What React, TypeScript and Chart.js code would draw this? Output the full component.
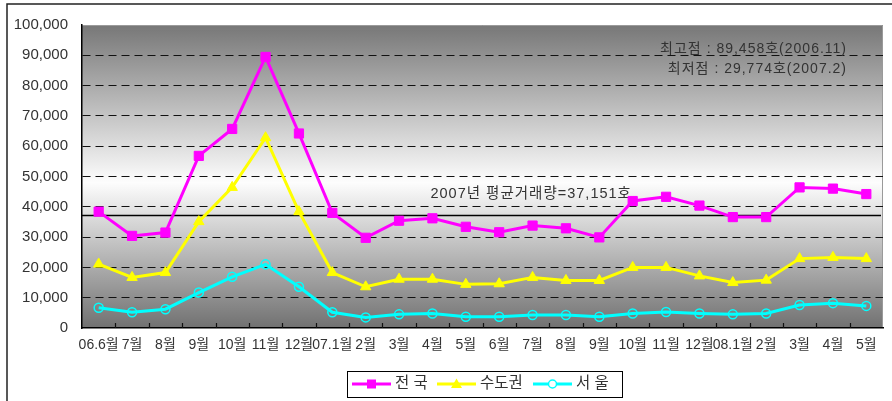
import React, { useEffect, useRef } from "react";
import { Chart, registerables } from "chart.js";

Chart.register(...registerables);

const categories = [
  "06.6월", "7월", "8월", "9월", "10월", "11월", "12월",
  "07.1월", "2월", "3월", "4월", "5월", "6월", "7월", "8월", "9월", "10월", "11월", "12월",
  "08.1월", "2월", "3월", "4월", "5월",
];

const nationwide = [
  38400, 30400, 31500, 56800, 65700, 89458, 64200,
  38000, 29774, 35400, 36200, 33400, 31600, 33800, 32900, 29900, 41900, 43300, 40400,
  36600, 36600, 46400, 46000, 44200,
];

const capitalArea = [
  21100, 16700, 18300, 35100, 46400, 62800, 38400,
  18300, 13600, 16100, 16100, 14400, 14600, 16700, 15700, 15700, 20000, 20000, 17200,
  15000, 15800, 22900, 23300, 22900,
];

const seoul = [
  6700, 5200, 6200, 11700, 16900, 21000, 13600,
  5200, 3500, 4500, 4800, 3700, 3700, 4300, 4300, 3700, 4800, 5300, 4800,
  4500, 4800, 7600, 8200, 7300,
];

const seriesNames = ["전 국", "수도권", "서 울"];
const seriesColors = ["#ff00ff", "#ffff00", "#00ffff"];
const seriesPoints = ["rect", "triangle", "circle"];

const yMin = 0;
const yMax = 100000;
const yStep = 10000;

const averageValue = 37151;
const averageLabel = "2007년 평균거래량=37,151호";
const noteLines = ["최고점 : 89,458호(2006.11)", "최저점 : 29,774호(2007.2)"];

const FONT = '"Liberation Sans", Arial, "Noto Sans CJK KR", sans-serif';
const TEXT = "#333333";

const decorPlugin = {
  id: "decor",
  beforeDraw(chart: any) {
    const { ctx, chartArea: a, width, height } = chart;
    ctx.save();
    ctx.fillStyle = "#ffffff";
    ctx.fillRect(0, 0, width, height);
    const g = ctx.createLinearGradient(0, a.top, 0, a.bottom);
    g.addColorStop(0, "#777777");
    g.addColorStop(0.52, "#fdfdfd");
    g.addColorStop(1, "#717171");
    ctx.fillStyle = g;
    ctx.fillRect(a.left, a.top, a.right - a.left, a.bottom - a.top);
    // outer frame
    ctx.strokeStyle = "#222222";
    ctx.lineWidth = 1.5;
    ctx.beginPath();
    ctx.moveTo(7, height);
    ctx.lineTo(7, 4);
    ctx.lineTo(width, 4);
    ctx.stroke();
    // plot top / right border
    ctx.strokeStyle = "#9a9a9a";
    ctx.lineWidth = 1;
    ctx.beginPath();
    ctx.moveTo(a.left, a.top + 0.5);
    ctx.lineTo(a.right - 0.5, a.top + 0.5);
    ctx.lineTo(a.right - 0.5, a.bottom);
    ctx.stroke();
    ctx.restore();
  },
  beforeDatasetsDraw(chart: any) {
    const { ctx, chartArea: a, scales } = chart;
    const xs = scales.x;
    const ys = scales.y;
    ctx.save();
    // inward ticks at category boundaries
    const n = categories.length;
    const w = (a.right - a.left) / n;
    ctx.strokeStyle = "#111111";
    ctx.lineWidth = 1.2;
    ctx.beginPath();
    for (let i = 1; i < n; i++) {
      const x = Math.round(a.left + i * w) + 0.5;
      ctx.moveTo(x, a.bottom);
      ctx.lineTo(x, a.bottom - 5);
    }
    ctx.stroke();
    // average line
    const yAvg = ys.getPixelForValue(averageValue);
    ctx.strokeStyle = "#000000";
    ctx.lineWidth = 1.5;
    ctx.beginPath();
    ctx.moveTo(a.left, yAvg);
    ctx.lineTo(a.right - 2, yAvg);
    ctx.stroke();
    ctx.fillStyle = TEXT;
    ctx.font = "14.5px " + FONT;
    (ctx as any).letterSpacing = "1px";
    ctx.textAlign = "left";
    ctx.textBaseline = "middle";
    ctx.fillText(averageLabel, xs.getPixelForValue(10) - 2, yAvg - 21);
    // notes
    ctx.font = "14px " + FONT;
    ctx.textAlign = "right";
    noteLines.forEach((t, i) => {
      ctx.fillText(t, a.right - 36, a.top + 24 + i * 20);
    });
    (ctx as any).letterSpacing = "0px";
    ctx.restore();
  },
  afterDraw(chart: any) {
    const { ctx } = chart;
    ctx.save();
    const boxL = 347;
    const boxT = 371;
    const boxW = 275;
    const boxH = 26;
    ctx.fillStyle = "#ffffff";
    ctx.fillRect(boxL, boxT, boxW, boxH);
    ctx.strokeStyle = "#000000";
    ctx.lineWidth = 1;
    ctx.strokeRect(boxL + 0.5, boxT + 0.5, boxW, boxH);
    const cy = boxT + 13;
    const starts = [352, 437, 533];
    ctx.font = "15.5px " + FONT;
    ctx.textBaseline = "middle";
    ctx.textAlign = "left";
    seriesNames.forEach((name, i) => {
      const x0 = starts[i];
      const c = seriesColors[i];
      ctx.strokeStyle = c;
      ctx.lineWidth = 3;
      ctx.beginPath();
      ctx.moveTo(x0, cy);
      ctx.lineTo(x0 + 39, cy);
      ctx.stroke();
      const mx = x0 + 19.5;
      if (seriesPoints[i] === "rect") {
        ctx.fillStyle = c;
        ctx.fillRect(mx - 4.5, cy - 4.5, 9, 9);
      } else if (seriesPoints[i] === "triangle") {
        ctx.fillStyle = c;
        ctx.beginPath();
        ctx.moveTo(mx, cy - 5.5);
        ctx.lineTo(mx + 5.5, cy + 4);
        ctx.lineTo(mx - 5.5, cy + 4);
        ctx.closePath();
        ctx.fill();
      } else {
        ctx.fillStyle = "#ffffff";
        ctx.lineWidth = 1.5;
        ctx.beginPath();
        ctx.arc(mx, cy, 4, 0, Math.PI * 2);
        ctx.fill();
        ctx.stroke();
      }
      ctx.fillStyle = TEXT;
      ctx.fillText(name, x0 + 43, cy);
    });
    ctx.restore();
  },
};

export default function App() {
  const ref = useRef<HTMLCanvasElement | null>(null);
  useEffect(() => {
    document.body.style.margin = "0";
    const canvas = ref.current;
    if (!canvas) return;
    const seriesData = [nationwide, capitalArea, seoul];
    const chart = new Chart(canvas, {
      type: "line",
      data: {
        labels: categories,
        datasets: seriesData.map((d, i) => ({
          label: seriesNames[i],
          data: d,
          borderColor: seriesColors[i],
          backgroundColor: seriesColors[i],
          borderWidth: 3,
          pointStyle: seriesPoints[i] as any,
          pointRadius: i === 0 ? 6.5 : i === 1 ? 6 : 4.5,
          pointBackgroundColor: i === 2 ? "rgba(0,0,0,0)" : seriesColors[i],
          pointBorderColor: seriesColors[i],
          pointBorderWidth: i === 2 ? 1.5 : 1,
          tension: 0,
          fill: false,
        })),
      },
      options: {
        animation: false,
        responsive: false,
        maintainAspectRatio: false,
        layout: { padding: { top: 25, right: 9, left: 0, bottom: 0 } },
        plugins: { legend: { display: false }, tooltip: { enabled: false } },
        scales: {
          x: {
            offset: true,
            grid: { display: true, drawOnChartArea: false, drawTicks: false },
            border: { display: true, color: "#000000", width: 1.5 },
            ticks: {
              autoSkip: false,
              maxRotation: 0,
              minRotation: 0,
              padding: 9,
              color: TEXT,
              font: { size: 14, family: FONT },
            },
            afterFit(s: any) {
              s.height = 73;
            },
          },
          y: {
            min: yMin,
            max: yMax,
            ticks: {
              stepSize: yStep,
              padding: 14,
              color: TEXT,
              font: { size: 15, family: FONT },
              callback: (v: any) => Number(v).toLocaleString("en-US"),
            },
            grid: {
              color: (c: any) =>
                c.tick && (c.tick.value === yMin || c.tick.value === yMax) ? "rgba(0,0,0,0)" : "#111111",
              lineWidth: 1,
              drawTicks: false,
            },
            border: { display: true, color: "#000000", width: 1.5, dash: [8, 5] },
            afterFit(s: any) {
              s.width = 82;
            },
          },
        },
      },
      plugins: [decorPlugin],
    });
    return () => chart.destroy();
  }, []);
  return (
    <div style={{ width: 892, height: 401 }}>
      <canvas ref={ref} width={892} height={401} style={{ display: "block", width: 892, height: 401 }} />
    </div>
  );
}
